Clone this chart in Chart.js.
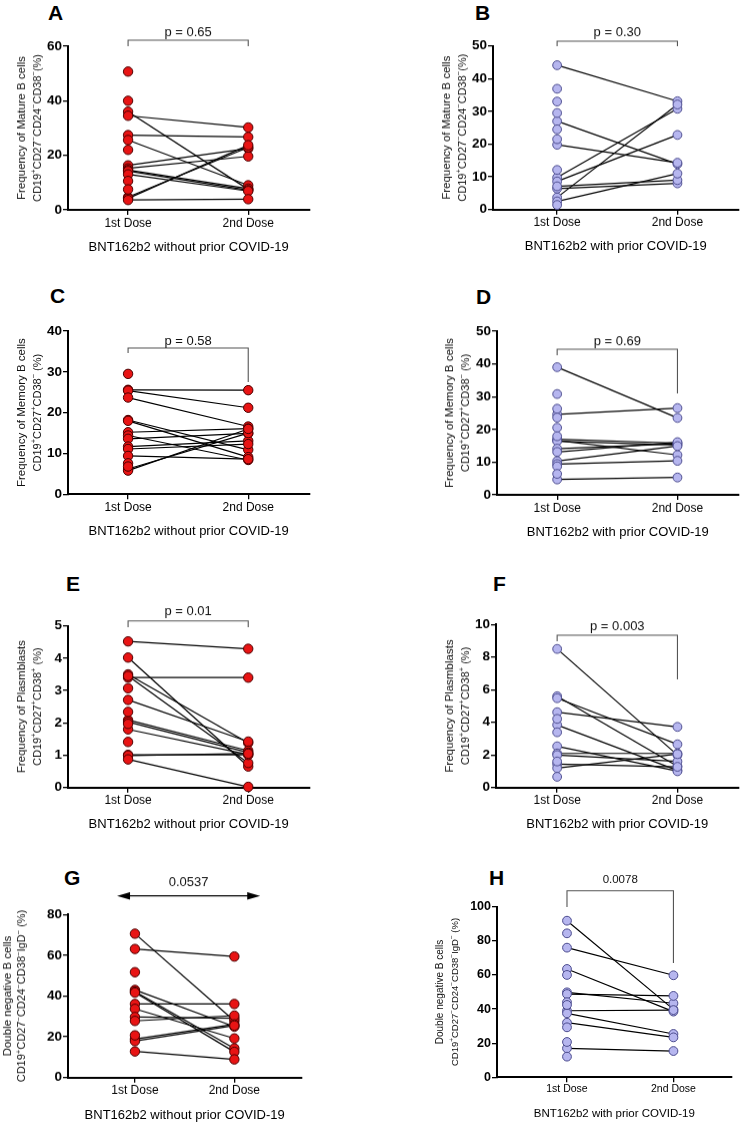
<!DOCTYPE html>
<html lang="en">
<head>
<meta charset="UTF-8">
<title>B cell subsets after BNT162b2</title>
<script src="https://cdn.jsdelivr.net/npm/chart.js@4"></script>
<style>
  body {
    margin: 0;
    width: 750px;
    height: 1125px;
    position: relative;
    overflow: hidden;
    background: #fff;
    font-family: "Liberation Sans", Arial, "DejaVu Sans", sans-serif;
  }
  .panel { position: absolute; }
  .letter {
    position: absolute;
    font-size: 21px;
    line-height: 21px;
    font-weight: bold;
    color: #000;
  }
</style>
</head>
<body>
<script>
const doses = ['1st Dose', '2nd Dose'];
const noPrior = 'BNT162b2 without prior COVID-19';
const withPrior = 'BNT162b2 with prior COVID-19';

// A - mature B cells, no prior infection (paired values, then 1st-dose-only)
const aPre = [36.0, 34.5, 27.4, 25.6, 16.3, 15.2, 14.6, 14.2, 13.0, 4.7, 4.2, 3.6];
const aPost = [7.5, 30.2, 26.7, 9.0, 22.5, 19.6, 7.8, 7.2, 6.9, 22.9, 23.7, 3.9];
const aPreOnly = [50.7, 40.0, 22.0, 10.6, 7.5];

// B - mature B cells, prior infection
const bPre = [44.1, 27.0, 19.8, 9.8, 8.6, 3.7, 6.4, 7.1, 2.5];
const bPost = [33.1, 13.9, 14.3, 30.8, 22.8, 32.1, 8.0, 9.0, 11.0];
const bPreOnly = [36.9, 33.0, 29.5, 24.5, 21.5, 12.1, 1.4];

// C - memory B cells, no prior infection
const cPre = [25.6, 25.4, 23.7, 18.2, 18.0, 15.2, 14.4, 13.6, 11.7, 11.1, 9.4, 6.2, 5.8];
const cPost = [25.5, 21.2, 16.6, 10.9, 9.1, 16.1, 8.4, 14.9, 13.1, 12.3, 8.6, 15.0, 16.0];
const cPreOnly = [29.5, 7.6, 6.8];

// D - memory B cells, prior infection
const dPre = [39.0, 24.6, 17.0, 16.6, 16.4, 14.1, 13.1, 10.3, 9.4, 4.7];
const dPost = [23.5, 26.5, 15.8, 12.2, 15.2, 15.6, 16.1, 14.9, 10.4, 5.3];
const dPreOnly = [30.8, 26.3, 23.6, 20.5, 17.9, 8.7, 6.4];

// E - plasmablasts, no prior infection
const ePre = [4.52, 4.02, 3.50, 3.40, 3.45, 2.71, 2.09, 2.03, 1.80, 1.01, 0.99, 0.87];
const ePost = [4.29, 0.65, 1.38, 3.40, 0.76, 1.42, 1.14, 1.08, 1.02, 1.01, 1.05, 0.02];
const ePreOnly = [3.07, 2.34, 1.97, 1.41];

// F - plasmablasts, prior infection
const fPre = [8.5, 5.6, 5.48, 4.62, 3.84, 2.53, 2.09, 1.99, 1.44, 1.19];
const fPost = [1.99, 1.3, 2.65, 3.72, 1.05, 1.0, 2.09, 1.6, 1.27, 2.05];
const fPreOnly = [4.21, 3.39, 1.6, 0.66];

// G - double negative B cells, no prior infection
const gPre = [70.6, 63.1, 43.0, 42.2, 41.7, 36.1, 33.7, 29.7, 27.8, 18.9, 17.9, 12.8];
const gPost = [27.8, 59.4, 25.0, 14.3, 12.6, 36.1, 19.2, 29.1, 30.4, 26.1, 25.5, 8.9];
const gPreOnly = [51.7, 20.7];

// H - double negative B cells, prior infection
const hPre = [91.8, 76.0, 63.5, 49.8, 48.8, 39.0, 37.5, 32.0, 17.0];
const hPost = [39.8, 59.8, 38.5, 43.4, 47.7, 39.4, 25.4, 23.4, 15.4];
const hPreOnly = [84.4, 60.0, 44.0, 42.4, 29.3, 20.7, 12.1];

// y titles: {..} marks a superscript
const matureTitle = ['Frequency of Mature B cells', 'CD19{+}CD27{−}CD24{−}CD38{−}(%)'];
const memoryTitle = ['Frequency of Memory B cells', 'CD19{+}CD27{+}CD38{−} (%)'];
const plasmaTitle = ['Frequency of Plasmblasts', 'CD19{+}CD27{+}CD38{+} (%)'];
const dnTitle = ['Double negative B cells', 'CD19{+}CD27{−}CD24{−}CD38{−}IgD{−} (%)'];

const red = { fill: '#e81414', edge: '#4a0000' };
const lilac = { fill: '#b6b6ef', edge: '#4c4c8e' };

const panels = [
  { letter: 'A', pre: aPre, post: aPost, extra: aPreOnly, col: red, max: 60, step: 20,
    yTitle: matureTitle, xTitle: noPrior, p: 'p = 0.65',
    box: { left: 0, top: 0, axisX: 68, firstX: 129, secondX: 251, rightX: 313, chartTop: 46, zeroY: 209, titleX: 22 },
    bracket: { bar: -6, armL: 0, armR: 0, text: -14 }, letterAt: [48, 20] },
  { letter: 'B', pre: bPre, post: bPost, extra: bPreOnly, col: lilac, max: 50, step: 10,
    yTitle: matureTitle, xTitle: withPrior, p: 'p = 0.30',
    box: { left: 405, top: 0, axisX: 493, firstX: 558, secondX: 680, rightX: 742, chartTop: 45.7, zeroY: 208.7, titleX: 447 },
    bracket: { bar: -4.7, armL: 0.3, armR: 0.3, text: -13.7 }, letterAt: [475, 20] },
  { letter: 'C', pre: cPre, post: cPost, extra: cPreOnly, col: red, max: 40, step: 10,
    yTitle: memoryTitle, xTitle: noPrior, p: 'p = 0.58',
    box: { left: 0, top: 300, axisX: 68, firstX: 129, secondX: 251, rightX: 313, chartTop: 331, zeroY: 494.3, titleX: 22 },
    bracket: { bar: 17, armL: 22, armR: 51, text: 10 }, letterAt: [50, 303] },
  { letter: 'D', pre: dPre, post: dPost, extra: dPreOnly, col: lilac, max: 50, step: 10,
    yTitle: memoryTitle, xTitle: withPrior, p: 'p = 0.69',
    box: { left: 405, top: 300, axisX: 497, firstX: 558, secondX: 680, rightX: 742, chartTop: 331, zeroY: 494, titleX: 450 },
    bracket: { bar: 18, armL: 24, armR: 62, text: 10 }, letterAt: [476, 304] },
  { letter: 'E', pre: ePre, post: ePost, extra: ePreOnly, col: red, max: 5, step: 1,
    yTitle: plasmaTitle, xTitle: noPrior, p: 'p = 0.01',
    box: { left: 0, top: 590, axisX: 68, firstX: 129, secondX: 251, rightX: 313, chartTop: 625.7, zeroY: 786.7, titleX: 22 },
    bracket: { bar: -5, armL: 1.3, armR: 1.3, text: -14.7 }, letterAt: [66, 591] },
  { letter: 'F', pre: fPre, post: fPost, extra: fPreOnly, col: lilac, max: 10, step: 2,
    yTitle: plasmaTitle, xTitle: withPrior, p: 'p = 0.003',
    box: { left: 405, top: 590, axisX: 496, firstX: 558, secondX: 680, rightX: 742, chartTop: 624.3, zeroY: 786.7, titleX: 450 },
    bracket: { bar: 10.7, armL: 16.7, armR: 54.7, text: 1.7 }, letterAt: [493, 591] },
  { letter: 'G', pre: gPre, post: gPost, extra: gPreOnly, col: red, max: 80, step: 20,
    yTitle: dnTitle, xTitle: noPrior, p: '0.0537',
    box: { left: 0, top: 860, axisX: 68, firstX: 136, secondX: 237, rightX: 305, chartTop: 914.3, zeroY: 1076.7, titleX: 8 },
    bracket: { arrow: true, from: 0.82, to: 2.26, bar: -18.6, text: -32.3 }, letterAt: [64, 885],
    yTitleLine: 14, xTitleGap: 38 },
  { letter: 'H', pre: hPre, post: hPost, extra: hPreOnly, col: lilac, max: 100, step: 20,
    yTitle: dnTitle, xTitle: withPrior, p: '0.0078',
    box: { left: 405, top: 860, axisX: 497, firstX: 568, secondX: 676, rightX: 735, chartTop: 906.7, zeroY: 1077.3, titleX: 440 },
    bracket: { bar: -16, armL: 0.3, armR: 56.3, text: -26.7 }, letterAt: [489, 885],
    small: true, yTitleSize: 10, yTitleLine: 15 }
];

const fontFamily = "'Liberation Sans', Arial, 'DejaVu Sans', sans-serif";
Chart.defaults.font.family = fontFamily;
Chart.defaults.color = '#000';

// draws one rotated title line with small raised marks for the {..} parts
function drawRotatedRich(ctx, text, x, y, size) {
  const parts = text.split(/\{([^}]*)\}/);
  const supSize = size * 0.68;
  const fontOf = (i) => (i % 2 ? supSize : size) + 'px ' + fontFamily;
  let total = 0;
  parts.forEach((s, i) => { ctx.font = fontOf(i); total += ctx.measureText(s).width; });
  ctx.save();
  ctx.translate(x, y);
  ctx.rotate(-Math.PI / 2);
  ctx.textAlign = 'left';
  ctx.textBaseline = 'middle';
  let cur = -total / 2;
  parts.forEach((s, i) => {
    ctx.font = fontOf(i);
    ctx.fillText(s, cur, i % 2 ? -size * 0.32 : 0);
    cur += ctx.measureText(s).width;
  });
  ctx.restore();
}

// y title, plus bracket (or double arrow) with the p value above the two doses
const annotatePlugin = {
  id: 'annotate',
  afterDraw(chart, args, o) {
    const { ctx, chartArea, scales: { x } } = chart;
    const t = chartArea.top;
    ctx.save();
    ctx.fillStyle = '#111';
    const cy = (chartArea.top + chartArea.bottom) / 2;
    drawRotatedRich(ctx, o.yTitle[0], o.titleX, cy, o.yTitleSize);
    drawRotatedRich(ctx, o.yTitle[1], o.titleX + o.yTitleLine, cy, o.yTitleSize - 0.5);

    const x1 = x.getPixelForValue(1), x2 = x.getPixelForValue(2);
    let mid = (x1 + x2) / 2;
    if (o.arrow) {
      const a = x.getPixelForValue(o.from), b = x.getPixelForValue(o.to);
      const y = t + o.bar;
      mid = (a + b) / 2;
      ctx.strokeStyle = '#000';
      ctx.lineWidth = 1.2;
      ctx.beginPath();
      ctx.moveTo(a + 8, y);
      ctx.lineTo(b - 8, y);
      ctx.stroke();
      ctx.fillStyle = '#000';
      ctx.beginPath();
      ctx.moveTo(a, y); ctx.lineTo(a + 13, y - 3.8); ctx.lineTo(a + 13, y + 3.8); ctx.closePath();
      ctx.moveTo(b, y); ctx.lineTo(b - 13, y - 3.8); ctx.lineTo(b - 13, y + 3.8); ctx.closePath();
      ctx.fill();
    } else {
      ctx.strokeStyle = '#555';
      ctx.lineWidth = 1.1;
      ctx.beginPath();
      ctx.moveTo(x1, t + o.armL);
      ctx.lineTo(x1, t + o.bar);
      ctx.lineTo(x2, t + o.bar);
      ctx.lineTo(x2, t + o.armR);
      ctx.stroke();
    }
    ctx.fillStyle = '#111';
    ctx.font = o.size + 'px ' + fontFamily;
    ctx.textAlign = 'center';
    ctx.textBaseline = 'middle';
    ctx.fillText(o.label, mid, t + o.text);
    ctx.restore();
  }
};

panels.forEach(p => {
  const b = p.box;
  const small = !!p.small;
  const xFont = small ? 11.5 : 13;
  const xGap = p.xTitleGap || 37;
  const xH = xGap + xFont * 0.6;

  const letter = document.createElement('div');
  letter.className = 'letter';
  letter.textContent = p.letter;
  letter.style.left = p.letterAt[0] + 'px';
  letter.style.top = (p.letterAt[1] - 17.8) + 'px';
  document.body.appendChild(letter);

  const wrap = document.createElement('div');
  wrap.className = 'panel';
  wrap.style.left = b.left + 'px';
  wrap.style.top = b.top + 'px';
  wrap.style.width = (b.rightX - b.left + 2) + 'px';
  wrap.style.height = (b.zeroY - b.top + xH) + 'px';
  const cv = document.createElement('canvas');
  wrap.appendChild(cv);
  document.body.appendChild(wrap);

  const unit = b.secondX - b.firstX;
  const xMin = 1 - (b.firstX - b.axisX) / unit;
  const xMax = 2 + (b.rightX - b.secondX) / unit;

  const pairSets = p.pre.map((v, i) => ({
    data: [{ x: 1, y: v }, { x: 2, y: p.post[i] }],
    showLine: true,
    borderColor: '#000',
    borderWidth: 1.2,
    pointRadius: 0,
    clip: false,
    order: 2
  }));
  const pointStyle = {
    backgroundColor: p.col.fill,
    borderColor: p.col.edge,
    borderWidth: 1,
    pointRadius: p.col === red ? 4.7 : 4.4,
    clip: false,
    order: 1
  };
  const firstPts = Object.assign({
    data: p.pre.concat(p.extra).map(v => ({ x: 1, y: v }))
  }, pointStyle);
  const secondPts = Object.assign({
    data: p.post.map(v => ({ x: 2, y: v }))
  }, pointStyle);

  new Chart(cv, {
    type: 'scatter',
    data: { datasets: [firstPts, secondPts].concat(pairSets) },
    options: {
      responsive: true,
      maintainAspectRatio: false,
      animation: false,
      events: [],
      layout: { padding: { top: b.chartTop - b.top, left: 0, right: 2, bottom: 0 } },
      plugins: {
        legend: { display: false },
        tooltip: { enabled: false },
        annotate: Object.assign({
          label: p.p,
          size: small ? 11.5 : 13,
          yTitle: p.yTitle,
          titleX: b.titleX - b.left,
          yTitleLine: p.yTitleLine || 15.5,
          yTitleSize: p.yTitleSize || 11.5
        }, p.bracket)
      },
      scales: {
        x: {
          type: 'linear',
          min: xMin,
          max: xMax,
          afterBuildTicks: s => { s.ticks = [{ value: 1 }, { value: 2 }]; },
          afterFit: s => { s.height = xH; },
          border: { display: true, color: '#000', width: 2 },
          grid: { drawOnChartArea: false, drawTicks: true, tickLength: 5, color: '#000', lineWidth: 1.3 },
          ticks: {
            autoSkip: false,
            maxRotation: 0,
            padding: 1,
            font: { size: small ? 10.5 : 12 },
            color: '#000',
            callback: (v, i) => doses[i]
          },
          title: {
            display: true,
            text: p.xTitle,
            font: { size: xFont },
            color: '#000',
            padding: { top: 0, bottom: 0 }
          }
        },
        y: {
          min: 0,
          max: p.max,
          afterFit: s => { s.width = b.axisX - b.left; },
          border: { display: true, color: '#000', width: 2 },
          grid: { drawOnChartArea: false, drawTicks: true, tickLength: 5, color: '#000', lineWidth: 1.3 },
          ticks: {
            stepSize: p.step,
            padding: 1,
            font: { size: small ? 12.5 : 13.5, weight: 'bold' },
            color: '#000'
          }
        }
      }
    },
    plugins: [annotatePlugin]
  });
});
</script>
</body>
</html>
